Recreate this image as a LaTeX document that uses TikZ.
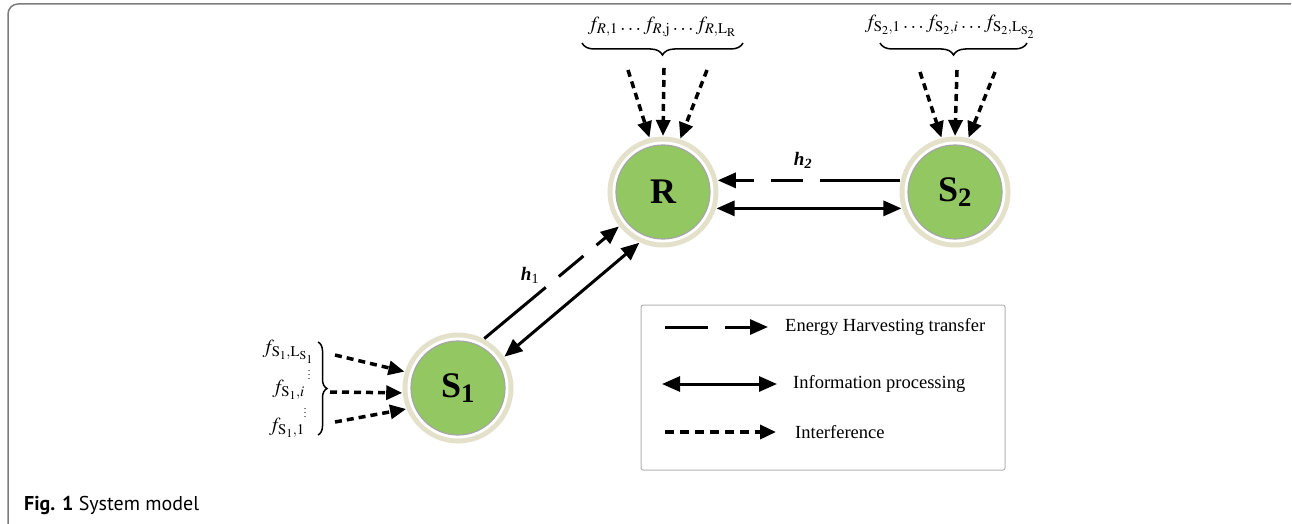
\documentclass[tikz,border=0pt]{standalone}
\usepackage{mathptmx}
\usepackage{fontspec}
\setmainfont{Liberation Serif}
\newfontfamily\capfont{PT Sans}
\usetikzlibrary{arrows.meta}
\usetikzlibrary{decorations.pathreplacing}
\definecolor{nodegreen}{RGB}{146,199,98}
\definecolor{halo}{RGB}{228,225,202}
\definecolor{framegray}{RGB}{125,125,125}
\tikzset{>=stealth}
\tikzset{
  station/.style={circle, minimum size=94pt, inner sep=0pt, outer sep=9pt,
    fill=nodegreen, draw=gray!70, line width=1.2pt,
    preaction={draw=halo, line width=17pt},
    preaction={draw=white, line width=7pt},
    font=\fontsize{36}{40}\selectfont\bfseries},
  energy/.style={line width=3pt, dash pattern=on 80pt off 17pt on 32pt off 17pt,
    -{Triangle[length=18pt,width=15pt]}},
  info/.style={line width=3pt, {Triangle[length=18pt,width=15pt]}-{Triangle[length=18pt,width=15pt]}},
  interf/.style={line width=3.5pt, dash pattern=on 7pt off 5pt,
    -{Triangle[length=16pt,width=14pt]}},
  flabel/.style={inner sep=1pt, font=\fontsize{20}{24}\selectfont},
  chan/.style={inner sep=1pt, font=\fontsize{19}{22}\selectfont\bfseries\itshape},
  fbrace/.style={decorate, decoration={brace, amplitude=12pt}, line width=1.5pt},
  legtext/.style={anchor=west, inner sep=0pt, font=\fontsize{18.5}{22}\selectfont},
  legbox/.style={draw=gray!60, line width=1pt, rounded corners=2pt, minimum width=364pt, minimum height=165pt}
}

\begin{document}
\begin{tikzpicture}[x=1pt,y=-1pt]
  \useasboundingbox (0,0) rectangle (1292,524);
  \draw[framegray, line width=1.5pt, rounded corners=10pt] (8,524) -- (8,4) -- (1291,4);

  \node[station] (R) at (663,192) {R};
  \node[station] (S2) at (955,192) {S\textsubscript{2}};
  \node[station] (S1) at (458,388) {S\textsubscript{1}};

  \draw[energy] (S2.168) -- (R.12);
  \draw[info] (R.-17) -- (S2.197);
  \draw[energy] (S1.62) -- (R.218);
  \draw[info] (S1.34) -- (R.245);
  \node[chan] (h2) at (803,160) {h\textsubscript{2}};
  \node[chan] (h1) at (530,275) {h\textsubscript{\normalfont 1}};

  \node[flabel] (labR) at (662,27) {$f_{R,1}\ldots f_{R,\mathrm{j}}\ldots f_{R,\mathrm{L}_\mathrm{R}}$};
  \draw[fbrace, decoration={mirror}] (582,43) -- (743,43);
  \coordinate (fRa) at (628,70);
  \coordinate (fRb) at (664,68);
  \coordinate (fRc) at (707,70);
  \draw[interf] (fRa) -- (R.104);
  \draw[interf] (fRb) -- (R.90);
  \draw[interf] (fRc) -- (R.72);

  \node[flabel] (labS2) at (950,27) {$f_{\mathrm{S}_2,1}\ldots f_{\mathrm{S}_2,i}\ldots f_{\mathrm{S}_2,\mathrm{L}_{\mathrm{S}_2}}$};
  \draw[fbrace, decoration={mirror}] (880,43) -- (1027,43);
  \coordinate (fSa) at (920,72);
  \coordinate (fSb) at (957,70);
  \coordinate (fSc) at (995,72);
  \draw[interf] (fSa) -- (S2.104);
  \draw[interf] (fSb) -- (S2.90);
  \draw[interf] (fSc) -- (S2.76);

  \node[flabel, anchor=east] (labS1L) at (315,352) {$f_{\mathrm{S}_1,\mathrm{L}_{\mathrm{S}_1}}$};
  \node[flabel, anchor=east] (labS1i) at (306,390) {$f_{\mathrm{S}_1,i}$};
  \node[flabel, anchor=east] (labS1a) at (306,428) {$f_{\mathrm{S}_1,1}$};
  \node[inner sep=0pt, font=\fontsize{10}{12}\selectfont] (dotsA) at (309,372) {$\vdots$};
  \node[inner sep=0pt, font=\fontsize{10}{12}\selectfont] (dotsB) at (305,410) {$\vdots$};
  \draw[fbrace, decoration={amplitude=9pt}] (318,342) -- (318,435);
  \coordinate (fTa) at (335,355);
  \coordinate (fTb) at (330,392);
  \coordinate (fTc) at (335,422);
  \draw[interf] (fTa) -- (S1.163);
  \draw[interf] (fTb) -- (S1.185);
  \draw[interf] (fTc) -- (S1.202);

  \node[legbox] (legend) at (823,387.5) {};
  \node[legtext] (legE) at (785,327) {Energy Harvesting transfer};
  \node[legtext] (legI) at (793,384) {Information processing};
  \node[legtext] (legF) at (795,432) {Interference};
  \draw[energy, dash pattern=on 43pt off 17pt] ([xshift=-120pt]legE.west) -- ([xshift=-17pt]legE.west);
  \draw[info] ([xshift=-131pt]legI.west) -- ([xshift=-16pt]legI.west);
  \draw[interf, dash pattern=on 9pt off 6pt] ([xshift=-130pt]legF.west) -- ([xshift=-19pt]legF.west);

  \node[anchor=base west, inner sep=0pt, font=\capfont\fontsize{20}{24}\selectfont] (cap) at (24,510) {\textbf{Fig. 1} System model};
\end{tikzpicture}
\end{document}
